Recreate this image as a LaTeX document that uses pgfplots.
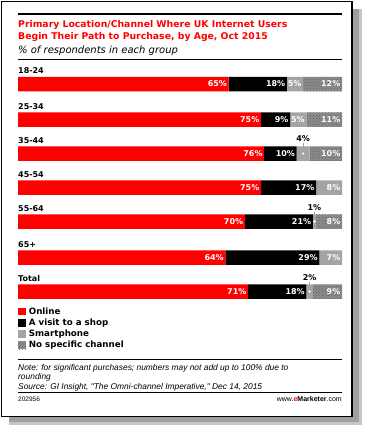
\documentclass[border=0pt]{standalone}
\usepackage{pgfplots}
\pgfplotsset{compat=1.18}
\usepackage{pgfplotstable}
\usepackage{fontspec}
\setmainfont{DejaVu Sans}
\newfontfamily\arialfont{Liberation Sans}
\usetikzlibrary{patterns}
\definecolor{emred}{HTML}{FF0000}
\definecolor{emgray}{HTML}{A4A4A4}
\definecolor{emdots}{HTML}{8C8C8C}
\definecolor{emdotfg}{HTML}{5E5E5E}
\definecolor{shadowc}{HTML}{A0A0A0}
\pgfplotstableread{
pos   online shop smart nospec
84    65 18 5 12
119.5 75 9  5 11
153.5 76 10 4 10
187.5 75 17 8 0
221.5 70 21 1 8
257.5 64 29 7 0
291.5 71 18 2 9
}\datatable
\newcommand\vf{\fontsize{8}{9}\selectfont\bfseries}
\newcommand\lf{\fontsize{8.7}{10}\selectfont\bfseries}
\tikzset{
  vl/.style={anchor=east, text=white, font=\vf, inner sep=0pt, xshift=-1.5pt},
  cat/.style={anchor=base west, font=\vf, inner sep=0pt},
  sm/.style={anchor=base, font=\vf, inner sep=0pt},
}
\pgfplotsset{frameaxis/.style={
  at={(18pt,-70pt)}, anchor=north west,
  scale only axis, width=324pt, height=232pt,
  xmin=0, xmax=100, ymin=70, ymax=302, y dir=reverse,
  hide axis, clip=false}}
\begin{document}
\begin{tikzpicture}
\begin{scope}[x=1pt,y=-1pt]
\fill[shadowc!60] (9,9) rectangle (362,425);
\fill[shadowc] (9,9) rectangle (359,422);
\filldraw[fill=white, draw=black, line width=1.2pt] (1.5,1.5) rectangle (352,416.5);
\draw[line width=2pt] (18,14) -- (342,14);
\node[anchor=base west, inner sep=0pt, text=emred, font=\fontsize{9.3}{12}\selectfont\bfseries] at (18,27.5) {Primary Location/Channel Where UK Internet Users};
\node[anchor=base west, inner sep=0pt, text=emred, font=\fontsize{9.3}{12}\selectfont\bfseries] at (18,39.5) {Begin Their Path to Purchase, by Age, Oct 2015};
\node[anchor=base west, inner sep=0pt, font=\fontsize{10}{12}\selectfont\itshape] at (18,53.5) {\% of respondents in each group};
\draw[line width=0.6pt] (18,59.3) -- (342,59.3);
\end{scope}

\begin{axis}[
  frameaxis,
  xbar stacked, bar width=14.5,
  legend image code/.code={\fill[#1] (0pt,-3.8pt) rectangle (7.6pt,3.8pt);},
  legend cell align=left,
  legend style={at={(0,-0.02)}, anchor=north west, draw=none, fill=none,
    inner sep=0pt, outer sep=0pt, row sep=1.2pt, column sep=2.5pt, font=\lf,
    nodes={inner sep=0.8pt, text height=6.6pt, text depth=1.8pt}},
]
\addplot[fill=emred, draw=none] table[x=online, y=pos] {\datatable};
\addplot[fill=black, draw=none] table[x=shop, y=pos] {\datatable};
\addplot[fill=emgray, draw=none] table[x=smart, y=pos] {\datatable};
\addplot[fill=emdots, draw=none, postaction={pattern=crosshatch dots, pattern color=emdotfg}] table[x=nospec, y=pos] {\datatable};
\legend{Online, A visit to a shop, Smartphone, No specific channel}
\end{axis}

\begin{axis}[frameaxis]
% category labels
\node[cat] at (axis cs:0,73.5) {18-24};
\node[cat] at (axis cs:0,109) {25-34};
\node[cat] at (axis cs:0,143) {35-44};
\node[cat] at (axis cs:0,177) {45-54};
\node[cat] at (axis cs:0,211) {55-64};
\node[cat] at (axis cs:0,247) {65+};
\node[cat] at (axis cs:0,281) {Total};

% value labels
\node[vl] at (axis cs:65,84) {65\%};
\node[vl] at (axis cs:83,84) {18\%};
\node[vl] at (axis cs:88,84) {5\%};
\node[vl] at (axis cs:100,84) {12\%};

\node[vl] at (axis cs:75,119.5) {75\%};
\node[vl] at (axis cs:84,119.5) {9\%};
\node[vl] at (axis cs:89,119.5) {5\%};
\node[vl] at (axis cs:100,119.5) {11\%};

\node[vl] at (axis cs:76,153.5) {76\%};
\node[vl] at (axis cs:86,153.5) {10\%};
\node[vl] at (axis cs:100,153.5) {10\%};

\node[vl] at (axis cs:75,187.5) {75\%};
\node[vl] at (axis cs:92,187.5) {17\%};
\node[vl] at (axis cs:100,187.5) {8\%};

\node[vl] at (axis cs:70,221.5) {70\%};
\node[vl] at (axis cs:91,221.5) {21\%};
\node[vl] at (axis cs:100,221.5) {8\%};

\node[vl] at (axis cs:64,257.5) {64\%};
\node[vl] at (axis cs:93,257.5) {29\%};
\node[vl] at (axis cs:100,257.5) {7\%};

\node[vl] at (axis cs:71,291.5) {71\%};
\node[vl] at (axis cs:89,291.5) {18\%};
\node[vl] at (axis cs:100,291.5) {9\%};

% small callouts
\draw[emgray, line width=1.2pt] (axis cs:88,142.5) -- (axis cs:88,153.5);
\fill[white] (axis cs:88,153.5) circle (1.3pt);
\node[sm] at (axis cs:88,141.5) {4\%};

\draw[emgray, line width=1.2pt] (axis cs:91.5,211.5) -- (axis cs:91.5,221.5);
\fill[white] (axis cs:91.5,221.5) circle (1.3pt);
\node[sm] at (axis cs:91.5,210.5) {1\%};

\draw[emgray, line width=1.2pt] (axis cs:90,281.5) -- (axis cs:90,291.5);
\fill[white] (axis cs:90,291.5) circle (1.3pt);
\node[sm] at (axis cs:90,280.5) {2\%};
\end{axis}

\begin{scope}[x=1pt,y=-1pt]
\draw[line width=0.6pt] (18,359) -- (342,359);
\node[anchor=base west, inner sep=0pt, font=\arialfont\fontsize{8.4}{10}\selectfont\itshape] at (18,370) {Note: for significant purchases; numbers may not add up to 100\% due to};
\node[anchor=base west, inner sep=0pt, font=\arialfont\fontsize{8.4}{10}\selectfont\itshape] at (18,379.5) {rounding};
\node[anchor=base west, inner sep=0pt, font=\arialfont\fontsize{8.4}{10}\selectfont\itshape] at (18,389) {Source: GI Insight, "The Omni-channel Imperative," Dec 14, 2015};
\draw[line width=1.8pt] (18,392.5) -- (342,392.5);
\node[anchor=base west, inner sep=0pt, font=\arialfont\fontsize{6.5}{7}\selectfont] at (18,401.5) {202956};
\node[anchor=base east, inner sep=0pt, font=\arialfont\fontsize{7}{8}\selectfont] at (342,401.5) {www.{\bfseries\color{emred}e}{\bfseries Marketer}.com};
\end{scope}
\pgfresetboundingbox
\path[use as bounding box] (0pt,0pt) rectangle (367pt,-432pt);
\end{tikzpicture}
\end{document}
